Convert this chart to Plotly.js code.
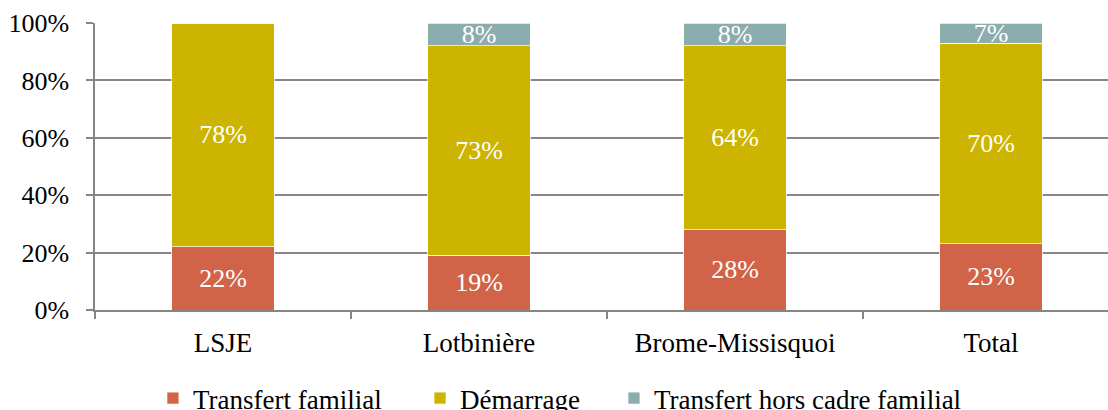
<!DOCTYPE html>
<html>
<head>
<meta charset="utf-8">
<script src="https://cdn.plot.ly/plotly-3.0.1.min.js"></script>
<style>
html,body{margin:0;padding:0;overflow:hidden;background:#fff;width:1108px;height:410px;}
#chart{width:1125px;height:410px;}
svg text, .main-svg text { font-family: 'Liberation Serif', serif !important; }
</style>
</head>
<body>
<div id="chart"></div>
<script>
const categories = ["LSJE", "Lotbinière", "Brome-Missisquoi", "Total"];
const transfertFamilial = [22, 19, 28, 23];
const demarrage = [78, 73, 64, 70];
const horsCadre = [0, 8, 8, 7];
const seriesNames = ["Transfert familial", "Démarrage", "Transfert hors cadre familial"];
const yTicks = [0, 20, 40, 60, 80, 100];

const colors = ["#D16349", "#CCB400", "#8CADAE"];
const fontFam = "Liberation Serif";

function mk(vals, name, color, legendId) {
  return {
    type: "bar",
    x: categories,
    y: vals,
    name: name,
    legend: legendId,
    text: vals.map(v => v > 0 ? v + "%" : ""),
    textposition: "inside",
    insidetextanchor: "middle",
    constraintext: "none",
    textfont: {family: fontFam, size: 26, color: "#ffffff"},
    marker: {color: color, line: {color: "rgba(255,255,255,0.7)", width: 1}},
    hoverinfo: "skip"
  };
}

const data = [
  mk(transfertFamilial, seriesNames[0], colors[0], "legend"),
  mk(demarrage, seriesNames[1], colors[1], "legend2"),
  mk(horsCadre, seriesNames[2], colors[2], "legend3")
];

function leg(x) {
  return {
    orientation: "h",
    x: x, xanchor: "left",
    yref: "container",
    y: 0.028, yanchor: "middle",
    bgcolor: "rgba(0,0,0,0)",
    font: {family: fontFam, size: 27, color: "#000000"}
  };
}

const layout = {
  width: 1125,
  height: 410,
  margin: {l: 95, r: 6, t: 23, b: 100},
  barmode: "stack",
  bargap: 0.6,
  paper_bgcolor: "#ffffff",
  plot_bgcolor: "#ffffff",
  font: {family: fontFam, size: 26, color: "#000000"},
  showlegend: true,
  legend: leg(0.0566),
  legend2: leg(0.3174),
  legend3: leg(0.5068),
  xaxis: {
    type: "category",
    automargin: false,
    showgrid: false,
    showline: true,
    linecolor: "#868686",
    linewidth: 1.5,
    ticks: "outside",
    tickson: "boundaries",
    ticklen: 7,
    tickcolor: "#868686",
    tickwidth: 1.5,
    ticklabelstandoff: 8,
    tickfont: {family: fontFam, size: 27, color: "#000000"},
    zeroline: false
  },
  yaxis: {
    range: [0, 100],
    automargin: false,
    tickvals: yTicks,
    ticktext: yTicks.map(v => v + "%"),
    showgrid: true,
    gridcolor: "#868686",
    gridwidth: 1.5,
    showline: true,
    linecolor: "#868686",
    linewidth: 1.5,
    ticks: "outside",
    ticklen: 7,
    tickcolor: "#868686",
    tickwidth: 1.5,
    ticklabelstandoff: 12,
    tickfont: {family: fontFam, size: 26, color: "#000000"},
    zeroline: false
  }
};

function enforceFont() {
  document.querySelectorAll("svg text").forEach(function (t) {
    if (t.style.getPropertyPriority("font-family") !== "important") {
      t.style.setProperty("font-family", "'Liberation Serif', serif", "important");
    }
  });
}

Plotly.newPlot("chart", data, layout, {displayModeBar: false}).then(function () {
  enforceFont();
  new MutationObserver(enforceFont).observe(document.getElementById("chart"), {subtree: true, childList: true, attributes: true, attributeFilter: ["style"]});
});
</script>
</body>
</html>
